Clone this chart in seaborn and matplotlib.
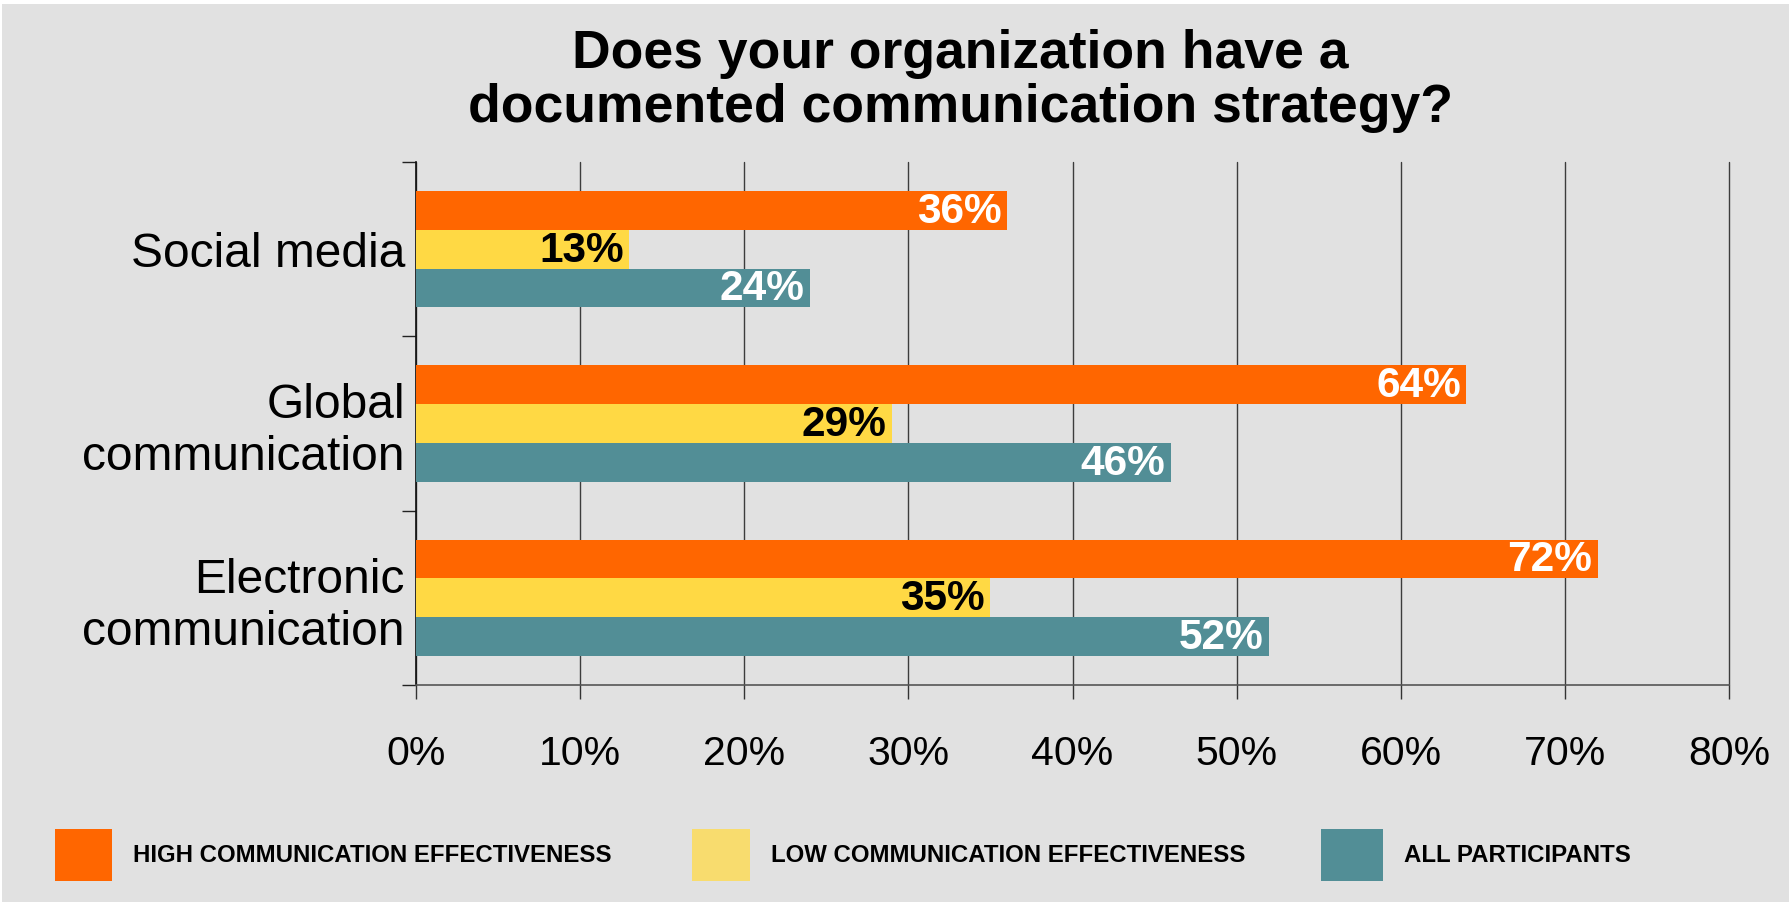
import matplotlib
matplotlib.use("Agg")
import matplotlib.pyplot as plt
import seaborn as sns
import pandas as pd
from matplotlib.patches import Rectangle
from matplotlib.ticker import FixedLocator, FixedFormatter

categories = ["Social media", "Global\ncommunication", "Electronic\ncommunication"]
series = ["HIGH COMMUNICATION EFFECTIVENESS", "LOW COMMUNICATION EFFECTIVENESS", "ALL PARTICIPANTS"]
high_values = [36, 64, 72]
low_values = [13, 29, 35]
all_values = [24, 46, 52]
x_ticks = [0, 10, 20, 30, 40, 50, 60, 70, 80]
x_tick_labels = ["0%", "10%", "20%", "30%", "40%", "50%", "60%", "70%", "80%"]
title = "Does your organization have a\ndocumented communication strategy?"

bar_colors = ["#FF6600", "#FFD944", "#528E96"]
legend_colors = ["#FF6600", "#F8DC6E", "#528E96"]
label_colors = ["white", "black", "white"]
BG = "#E1E1E1"

rows = []
for s, vals in zip(series, [high_values, low_values, all_values]):
    for c, v in zip(categories, vals):
        rows.append({"category": c, "series": s, "value": v})
df = pd.DataFrame(rows)

sns.set_theme(style="white")
plt.rcParams["font.family"] = ["Liberation Sans", "DejaVu Sans"]

W, H = 1792, 902
fig = plt.figure(figsize=(W / 100, H / 100), dpi=100, facecolor="white")
fig.patches.append(Rectangle((2 / W, 0), (1789 - 2) / W, (H - 4) / H,
                             transform=fig.transFigure, facecolor=BG,
                             edgecolor="none", zorder=-10))

left, right, top, bottom = 416, 1729, 162, 685
ax = fig.add_axes([left / W, 1 - bottom / H, (right - left) / W, (bottom - top) / H])
ax.set_facecolor(BG)

sns.barplot(data=df, y="category", x="value", hue="series", order=categories,
            hue_order=series, palette=bar_colors, orient="h", width=0.667,
            gap=0, saturation=1, legend=False, ax=ax, zorder=3,
            edgecolor="none", linewidth=0)

ax.set_xlim(0, 80)
ax.set_ylim(2.5, -0.5)
ax.xaxis.set_major_locator(FixedLocator(x_ticks))
ax.xaxis.set_major_formatter(FixedFormatter(x_tick_labels))
ax.grid(axis="x", color="#3C3C3C", linewidth=1.0, zorder=0)
ax.grid(axis="y", visible=False)
ax.set_axisbelow(True)
for gl in ax.get_xgridlines():
    gl.set_clip_on(False)

# y: major ticks at category boundaries, labels at minor ticks (centers)
ax.yaxis.set_major_locator(FixedLocator([-0.5, 0.5, 1.5, 2.5]))
ax.yaxis.set_major_formatter(FixedFormatter(["", "", "", ""]))
ax.yaxis.set_minor_locator(FixedLocator(list(range(len(categories)))))
ax.yaxis.set_minor_formatter(FixedFormatter(categories))
ax.tick_params(axis="y", which="major", direction="out", length=10, width=1,
               color="#222222", left=True)
ax.tick_params(axis="y", which="minor", length=0, pad=8, labelsize=34.5,
               labelcolor="black")
for t in ax.yaxis.get_minorticklabels():
    t.set_multialignment("right")
ax.tick_params(axis="x", direction="out", length=10, width=1, color="#333333",
               bottom=True, pad=26, labelsize=29.5, labelcolor="black")

for s in ["top", "right"]:
    ax.spines[s].set_visible(False)
ax.spines["left"].set_color("#111111")
ax.spines["left"].set_linewidth(1.2)
ax.spines["bottom"].set_color("#555555")
ax.spines["bottom"].set_linewidth(1.2)
ax.set_xlabel("")
ax.set_ylabel("")

for cont, lc in zip(ax.containers, label_colors):
    for p in cont:
        v = p.get_width()
        ax.annotate(f"{v:.0f}%", xy=(v, p.get_y() + p.get_height() / 2),
                    xytext=(-4, -1), textcoords="offset points",
                    ha="right", va="center", fontsize=30.5, fontweight="bold",
                    color=lc, zorder=5)

fig.text(960 / W, 1 - 81 / H, title, ha="center", va="center", fontsize=38.5,
         fontweight="bold", color="black", linespacing=1.1)

# legend
leg_x = [55, 692, 1321]
leg_w = [57, 58, 62]
for x0, w0, col, name in zip(leg_x, leg_w, legend_colors, series):
    fig.patches.append(Rectangle((x0 / W, 1 - 881 / H), w0 / W, 52 / H,
                                 transform=fig.transFigure, facecolor=col,
                                 edgecolor="none"))
    fig.text((x0 + w0 + 21) / W, 1 - 855 / H, name, ha="left", va="center",
             fontsize=17.3, fontweight="bold", color="black")

fig.savefig("out.png", dpi=100, facecolor="white")
